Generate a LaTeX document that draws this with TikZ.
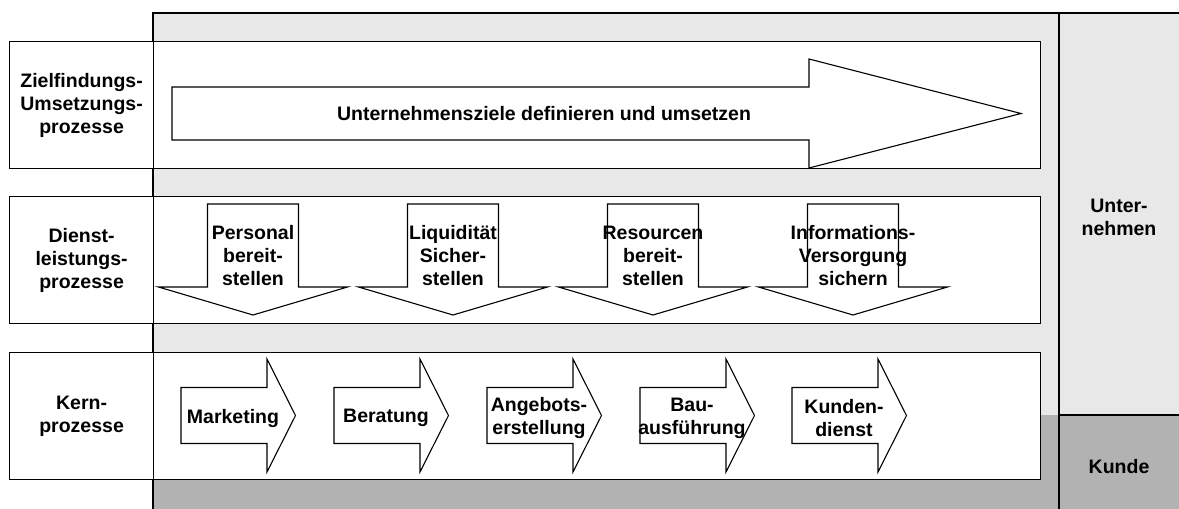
\documentclass[tikz,border=0pt]{standalone}
\usepackage{fontspec}
\setmainfont{Liberation Sans}
\begin{document}
\begin{tikzpicture}[x=1pt,y=-1pt,
  txt/.style={font=\bfseries\fontsize{19.5}{23}\selectfont, align=center, inner sep=0pt},
  frame/.style={draw=black, line width=1.2pt},
  rowbox/.style={frame, fill=white, anchor=north west, inner sep=0pt, minimum height=127pt},
  labelbox/.style={rowbox, minimum width=144pt},
  contentbox/.style={rowbox, minimum width=887pt},
  shapeline/.style={draw=black, line width=1.1pt, fill=white, line join=miter},
  downarrow/.pic={
    \path[shapeline] (-45.5,0) -- (45.5,0) -- (45.5,83) -- (94.5,83) -- (0,111)
      -- (-94.5,83) -- (-45.5,83) -- cycle;
  },
  rightarrow/.pic={
    \path[shapeline] (0,-28) -- (86,-28) -- (86,-56.5) -- (114.5,0) -- (86,56.5)
      -- (86,28) -- (0,28) -- cycle;
  }]
\definecolor{lightbg}{HTML}{E8E8E8}
\definecolor{darkbg}{HTML}{B2B2B2}
\useasboundingbox (0,0) rectangle (1179,509);

% background areas: company (light) and customer (dark)
\fill[lightbg] (153,13) rectangle (1179,509);
\fill[darkbg] (153,415) rectangle (1179,509);
\draw[frame] (153,509) -- (153,13) -- (1179,13);
\draw[frame] (1059,13) -- (1059,509);
\draw[frame] (1059,415) -- (1179,415);

\node[txt] (unternehmen) at (1119,217) {Unter-\\nehmen};
\node[txt] (kunde) at (1119,467) {Kunde};

% process rows
\node[labelbox] (zlab) at (9,41) {};
\node[contentbox] (zrow) at (153,41) {};
\node[labelbox] (dlab) at (9,196) {};
\node[contentbox] (drow) at (153,196) {};
\node[labelbox] (klab) at (9,352) {};
\node[contentbox] (krow) at (153,352) {};

\node[txt] (zlabtxt) at (zlab.center) {Zielfindungs-\\Umsetzungs-\\prozesse};
\node[txt] (dlabtxt) at (dlab.center) {Dienst-\\leistungs-\\prozesse};
\node[txt] (klabtxt) at (klab.center) {Kern-\\prozesse};

% goal-setting arrow
\path[shapeline] (172,87) -- (809,87) -- (809,59) -- (1021,113.5) -- (809,168)
  -- (809,140) -- (172,140) -- cycle;
\node[txt] (ziele) at (544,114) {Unternehmensziele definieren und umsetzen};

% service processes
\pic at (253,204) {downarrow};
\pic at (453,204) {downarrow};
\pic at (653,204) {downarrow};
\pic at (853,204) {downarrow};
\node[txt] (personal) at (253,256) {Personal\\bereit-\\stellen};
\node[txt] (liquid) at (453,256) {Liquidität\\Sicher-\\stellen};
\node[txt] (resourcen) at (653,256) {Resourcen\\bereit-\\stellen};
\node[txt] (info) at (853,256) {Informations-\\Versorgung\\sichern};

% core processes
\pic at (181,415.5) {rightarrow};
\pic at (334,415.5) {rightarrow};
\pic at (487,415.5) {rightarrow};
\pic at (640,415.5) {rightarrow};
\pic at (792,415.5) {rightarrow};
\node[txt] (marketing) at (233,418) {Marketing};
\node[txt] (beratung) at (386,418) {Beratung};
\node[txt] (angebot) at (539,418) {Angebots-\\erstellung};
\node[txt] (bau) at (692,418) {Bau-\\ausführung};
\node[txt] (dienst) at (844,418) {Kunden-\\dienst};
\end{tikzpicture}
\end{document}
